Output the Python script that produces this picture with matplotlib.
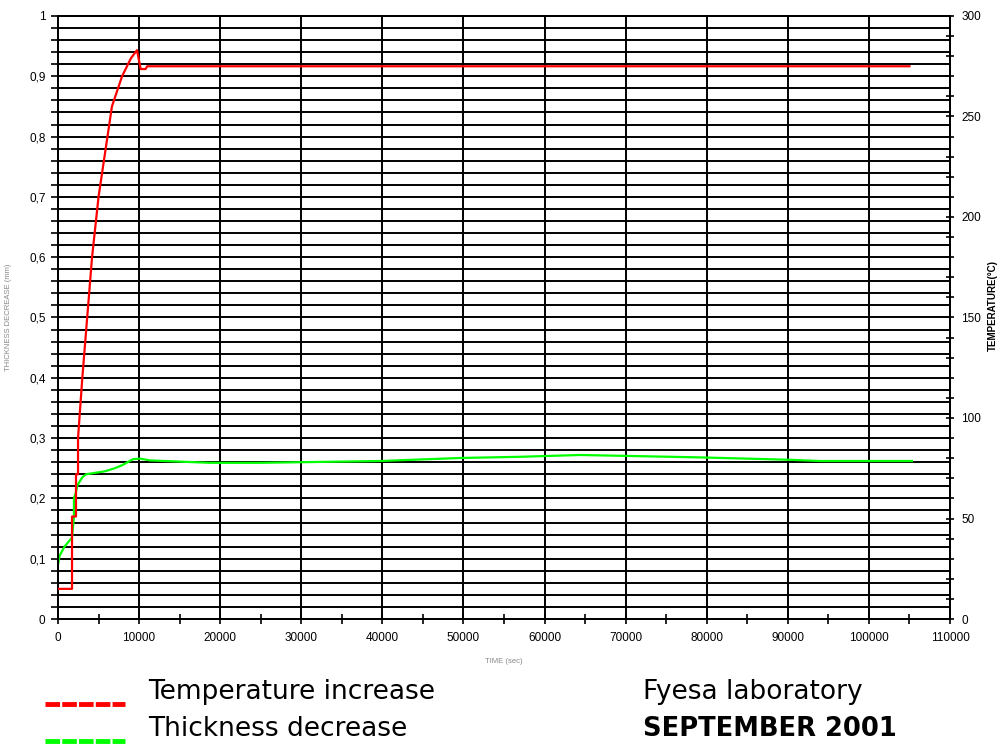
import matplotlib
matplotlib.use("Agg")
import matplotlib.pyplot as plt
from matplotlib.lines import Line2D
from matplotlib.ticker import MultipleLocator, FuncFormatter

# temperature curve (time in sec, temperature in degC)
temp_time = [0, 1730, 1730, 2220, 2220, 2470, 2470, 3000, 3600, 4200, 5000,
             6100, 6650, 7900, 9000, 9740, 10200, 10800, 11000, 105000]
temp_values = [15, 15, 51, 51, 72, 72, 90, 120, 150, 180, 210,
               240, 255, 270, 279, 283, 273.6, 273.6, 275, 275]

# thickness decrease curve (time in sec, mm)
thick_time = [0, 200, 800, 1730, 1970, 1970, 2200, 2400, 3000, 3450, 5800,
              7000, 7900, 9250, 10100, 11350, 13200, 18700, 24900, 29800,
              39700, 49600, 57000, 64400, 79200, 90300, 94000, 105300]
thick_values = [0.09, 0.105, 0.12, 0.135, 0.17, 0.2, 0.21, 0.222, 0.235, 0.24, 0.245,
                0.25, 0.255, 0.265, 0.266, 0.263, 0.262, 0.259, 0.259, 0.26,
                0.262, 0.267, 0.269, 0.272, 0.268, 0.264, 0.262, 0.262]

legend_labels = ["Temperature increase", "Thickness decrease"]
lab_name = "Fyesa laboratory"
lab_date = "SEPTEMBER 2001"

RED = "#ff0000"
GREEN = "#00ff00"

fig = plt.figure(figsize=(10, 7.47), dpi=100)
ax = fig.add_axes([0.058, 1 - 619 / 747, 0.892, 603 / 747])
ax2 = ax.twinx()

ax.set_xlim(0, 110000)
ax.set_ylim(0, 1)
ax2.set_ylim(0, 300)

# grid
ax.xaxis.set_major_locator(MultipleLocator(10000))
ax.xaxis.set_minor_locator(MultipleLocator(5000))
ax.yaxis.set_major_locator(MultipleLocator(0.1))
ax.yaxis.set_minor_locator(MultipleLocator(0.02))
ax.grid(True, which="major", axis="x", color="black", lw=1.4)
ax.grid(True, which="both", axis="y", color="black", lw=1.4)
ax.set_axisbelow(True)

ax.yaxis.set_major_formatter(FuncFormatter(
    lambda v, p: "0" if v == 0 else ("1" if abs(v - 1) < 1e-9 else f"{v:.1f}".replace(".", ","))))
ax.xaxis.set_major_formatter(FuncFormatter(lambda v, p: f"{int(v)}"))

ax2.yaxis.set_major_locator(MultipleLocator(50))
ax2.yaxis.set_minor_locator(MultipleLocator(10))

tick_font = dict(labelsize=8.5, colors="black")
ax.tick_params(axis="y", which="both", direction="out", length=5, width=1.2, pad=4, **tick_font)
ax.tick_params(axis="x", which="both", direction="inout", length=7, width=1.2, pad=6, **tick_font)
ax2.tick_params(axis="y", which="both", direction="inout", length=6, width=1.2, pad=5, **tick_font)
for lab in ax.get_xticklabels() + ax.get_yticklabels() + ax2.get_yticklabels():
    lab.set_family("Liberation Sans")

for a in (ax, ax2):
    for s in a.spines.values():
        s.set_linewidth(1.4)

ax.plot(thick_time, thick_values, color=GREEN, lw=1.6, zorder=5)
ax2.plot(temp_time, temp_values, color=RED, lw=1.6, zorder=5)

ax.set_xlabel("TIME (sec)", fontsize=5.5, color="#888888", family="Liberation Sans", labelpad=10)
ax.set_ylabel("THICKNESS DECREASE (mm)", fontsize=5.5, color="#888888", family="Liberation Sans", labelpad=12)
ax2.set_ylabel("TEMPERATURE(\u00b0C)", fontsize=7, fontweight="bold", family="Liberation Sans")
ax2.yaxis.set_label_coords(1.043, 0.52)

# legend / caption block under the chart
fig.add_artist(Line2D([0.045, 0.125], [0.057, 0.057], color=RED, lw=3.5,
                      linestyle=(0, (3.0, 0.45)), transform=fig.transFigure))
fig.add_artist(Line2D([0.045, 0.125], [0.008, 0.008], color=GREEN, lw=3.5,
                      linestyle=(0, (3.0, 0.45)), transform=fig.transFigure))
fig.text(0.148, 0.074, legend_labels[0], fontsize=19, family="DejaVu Sans", va="center")
fig.text(0.148, 0.024, legend_labels[1], fontsize=19, family="DejaVu Sans", va="center")
fig.text(0.643, 0.074, lab_name, fontsize=19, family="DejaVu Sans", va="center")
fig.text(0.643, 0.024, lab_date, fontsize=18.5, family="DejaVu Sans", fontweight="bold", va="center")

fig.savefig("out.png", dpi=100)
